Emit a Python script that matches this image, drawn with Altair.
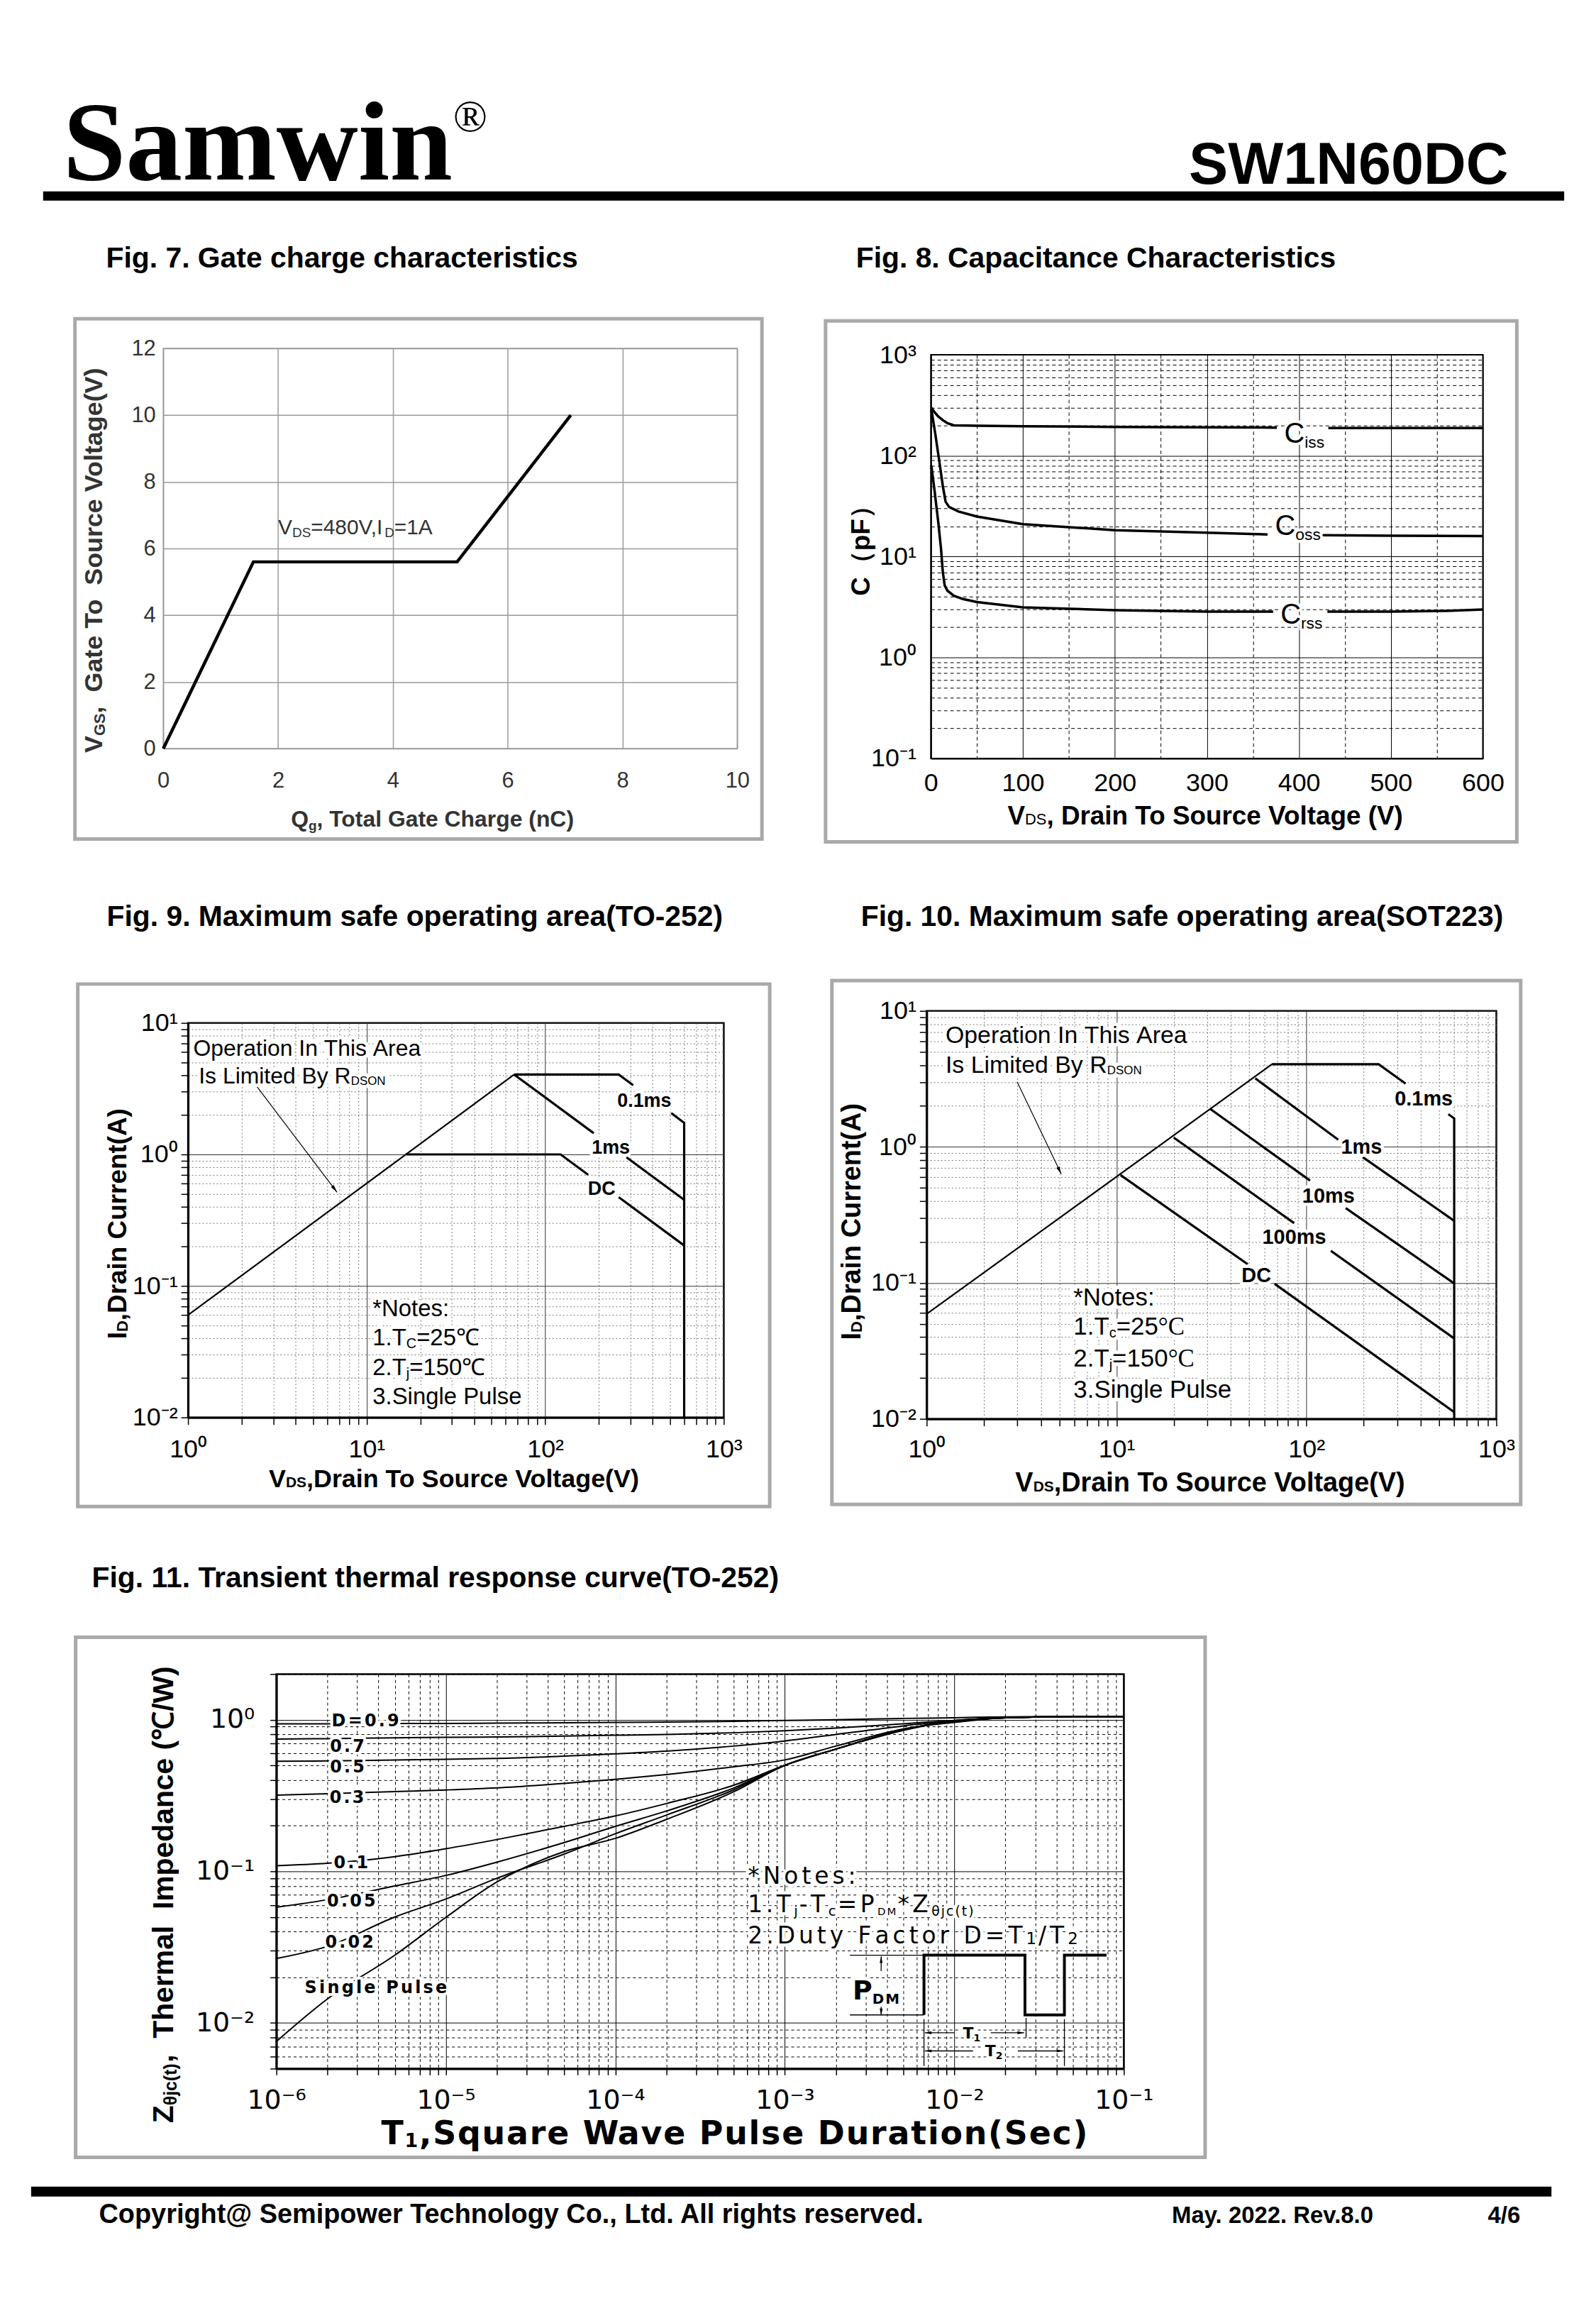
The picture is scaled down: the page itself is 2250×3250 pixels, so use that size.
import math
import altair as alt
import pandas as pd

SANS = "Liberation Sans, Arial, Helvetica, sans-serif"
WIDE = "DejaVu Sans, Verdana, sans-serif"
SERIF = "Liberation Serif, Times New Roman, serif"
FONTS = {"arial": SANS, "wide": WIDE, "serif": SERIF}
FRAME = "#a9a9a9"

# ======================= DATA =======================
# Fig. 7 gate charge
gate_qg_nc = [0.0, 1.57, 5.12, 7.1]
gate_vgs_v = [0.0, 5.6, 5.6, 10.0]
gate_note_qg, gate_note_v = 2.0, 6.66

# Fig. 8 capacitance (seg 1 resumes after the label gap)
ciss_vds = [0.5, 4, 8, 13, 18, 25, 50, 100, 200, 300, 376, 432, 500, 600]
ciss_pf = [300, 270, 245, 225, 210, 200, 198, 196, 193, 191, 190, 188, 188, 188]
ciss_seg = [0] * 11 + [1] * 3
coss_vds = [0.5, 5, 10, 13, 16, 20, 30, 50, 100, 200, 300, 366, 425, 500, 600]
coss_pf = [290, 160, 78, 50, 35, 31, 28, 25, 21, 18.3, 17.3, 16.6, 16.3, 16.1, 16.0]
coss_seg = [0] * 12 + [1] * 3
crss_vds = [0.5, 4, 8, 11, 13, 15, 18, 25, 35, 50, 100, 200, 300, 372, 431, 500, 560, 600]
crss_pf = [80, 45, 22, 12, 7, 5.2, 4.6, 4.1, 3.8, 3.55, 3.15, 2.95, 2.85, 2.85, 2.85, 2.85, 2.9, 3.0]
crss_seg = [0] * 14 + [1] * 4
cap_label_sub = ["iss", "oss", "rss"]
cap_label_vds = [384, 374, 380]
cap_label_pf = [168, 20.5, 2.72]

# Fig. 9 SOA TO-252
soa9_rdson_v = [1, 67]
soa9_rdson_i = [0.06, 4.05]
soa9_v = [[67, 258, 311], [508, 600, 600], [67, 187], [285, 600], [16.7, 122, 174], [258, 600]]
soa9_i = [[4.05, 4.05, 3.36], [2.06, 1.74, 0.01], [4.05, 1.45], [0.952, 0.452], [1.0, 1.0, 0.70], [0.473, 0.203]]
soa9_lab = ["0.1ms", "1ms", "DC"]
soa9_lab_v = [359, 233, 207]
soa9_lab_i = [2.6, 1.14, 0.555]
soa9_arrow_v = [2.41, 6.83]
soa9_arrow_i = [3.33, 0.516]
soa9_note_v = 10.8
soa9_note_i = [0.068, 0.0407, 0.0242, 0.0145]
soa9_op_v = [1.07, 1.149]
soa9_op_i = [6.5, 4.0]

# Fig. 10 SOA SOT223
soa10_rdson_v = [1, 65.8]
soa10_rdson_i = [0.059, 4.05]
soa10_v = [[65.8, 240, 333], [559, 600, 600], [53.8, 147], [198, 600], [31.2, 104.5], [161, 600],
           [20, 86.2], [134.5, 600], [10.5, 49.1], [68, 600]]
soa10_i = [[4.05, 4.05, 2.92], [1.74, 1.62, 0.01], [3.19, 1.13], [0.84, 0.286], [1.90, 0.565], [0.355, 0.099],
           [1.17, 0.275], [0.172, 0.039], [0.62, 0.137], [0.0984, 0.0112]]
soa10_lab = ["0.1ms", "1ms", "10ms", "100ms", "DC"]
soa10_lab_v = [415, 195, 130.6, 86.2, 54.5]
soa10_lab_i = [2.27, 1.0, 0.44, 0.218, 0.114]
soa10_arrow_v = [3.0, 5.12]
soa10_arrow_i = [3.0, 0.63]
soa10_note_v = 5.93
soa10_note_i = [0.079, 0.048, 0.028, 0.0165]
soa10_op_v = [1.257, 1.257]
soa10_op_i = [6.7, 4.05]

# Fig. 11 transient thermal impedance
zth_t = [1e-6, 2e-6, 5e-6, 1e-5, 2e-5, 5e-5, 1e-4, 2e-4, 5e-4, 1e-3, 2e-3, 5e-3, 1e-2, 2e-2, 5e-2, 1e-1]
zth_d09 = [0.94, 0.94, 0.945, 0.945, 0.95, 0.955, 0.96, 0.965, 0.975, 0.99, 1.0, 1.02, 1.03, 1.045, 1.05, 1.05]
zth_d07 = [0.745, 0.75, 0.76, 0.765, 0.77, 0.78, 0.79, 0.80, 0.82, 0.846, 0.88, 0.94, 0.99, 1.03, 1.05, 1.05]
zth_d05 = [0.532, 0.535, 0.542, 0.548, 0.555, 0.575, 0.596, 0.62, 0.67, 0.724, 0.80, 0.91, 0.99, 1.03, 1.05, 1.05]
zth_d03 = [0.318, 0.325, 0.336, 0.344, 0.355, 0.38, 0.404, 0.435, 0.49, 0.543, 0.67, 0.87, 0.96, 1.03, 1.05, 1.05]
zth_d01 = [0.109, 0.113, 0.125, 0.141, 0.162, 0.198, 0.232, 0.28, 0.37, 0.50, 0.64, 0.85, 0.98, 1.03, 1.05, 1.05]
zth_d005 = [0.0579, 0.065, 0.08, 0.094, 0.115, 0.155, 0.198, 0.25, 0.355, 0.50, 0.64, 0.86, 0.98, 1.03, 1.05, 1.05]
zth_d002 = [0.0266, 0.032, 0.05, 0.0657, 0.09, 0.13, 0.177, 0.235, 0.345, 0.50, 0.64, 0.86, 0.98, 1.03, 1.05, 1.05]
zth_single = [0.00755, 0.0144, 0.028, 0.0497, 0.085, 0.135, 0.165, 0.22, 0.335, 0.50, 0.64, 0.86, 0.98, 1.03, 1.05, 1.05]
zth_lab = ["D=0.9", "0.7", "0.5", "0.3", "0.1", "0.05", "0.02", "Single Pulse"]
zth_lab_t = [2.12e-6, 2.07e-6, 2.07e-6, 2.06e-6, 2.18e-6, 1.99e-6, 1.94e-6, 1.47e-6]
zth_lab_z = [0.985, 0.673, 0.49, 0.31, 0.115, 0.0641, 0.0343, 0.0173]
zth_note_t = 6.05e-4
zth_note_z = [0.0935, 0.0611, 0.0377]
pulse_t = [6.62e-3, 6.62e-3, 2.61e-2, 2.61e-2, 4.46e-2, 4.46e-2, 7.91e-2]
pulse_z = [0.0113, 0.028, 0.028, 0.0113, 0.0113, 0.028, 0.028]
pulse_thin_t = [[2.42e-3, 6.62e-3], [2.42e-3, 6.62e-3], [6.62e-3, 6.62e-3], [2.65e-2, 2.65e-2], [4.46e-2, 4.46e-2],
                [3.70e-3, 3.70e-3], [3.70e-3, 3.70e-3], [6.7e-3, 9.98e-3], [1.64e-2, 2.58e-2],
                [6.7e-3, 1.29e-2], [2.37e-2, 4.4e-2]]
pulse_thin_z = [[0.028, 0.028], [0.0113, 0.0113], [0.0106, 0.0052], [0.0108, 0.00797], [0.0106, 0.0052],
                [0.0275, 0.0220], [0.01335, 0.01125], [0.00861, 0.00861], [0.00861, 0.00861],
                [0.00654, 0.00654], [0.00654, 0.00654]]
pulse_head_t = [3.70e-3, 3.70e-3, 6.7e-3, 2.58e-2, 6.7e-3, 4.4e-2]
pulse_head_z = [0.0275, 0.01125, 0.00861, 0.00861, 0.00654, 0.00654]
pulse_head_dir = ["up", "down", "left", "right", "left", "right"]
pdm_t, pdm_z = 2.51e-3, 0.01654
t1_t, t1_z = 1.265e-2, 0.00861
t2_t, t2_z = 1.71e-2, 0.00654

# ======================= HELPERS =======================
ONE = pd.DataFrame({"k": [0]})


def _table(groups):
    t = {}
    for chars, w in groups:
        for ch in chars:
            t[ch] = w / 1000.0
    return t


_AR = _table([("ijl", 222), (" !,./:;I[]ft\u00a0", 278), ("()-r", 333), ("*", 389),
              ("ckvxyzJs", 500), ("0123456789abdeghnopquL?", 556), ("=+", 584),
              ("FTZ", 611), ("ABEKPSVXY", 667), ("CDHNRUw", 722), ("GOQ", 778),
              ("Mm", 833), ("W", 944), ("@", 1015), ("\u00b0", 400), ("\u03b8", 556), ("\u2103\uff08\uff09", 1000)])
_ARB = _table([(" ,./:;Iijl\u00a0", 278), ("()-!ft", 333), ("r*", 389),
               ("0123456789acekvxyzsJL?", 556), ("=+", 584), ("bdghnopquFTZ", 611),
               ("EKPSVXY", 667), ("ABCDHNRU", 722), ("GOQw", 778), ("M", 833),
               ("m", 889), ("W", 944), ("@", 975), ("\u00b0", 400), ("\u03b8", 600), ("\u2103\uff08\uff09", 1000)])
_DV = _table([(" .,\u00a0", 318), (":/", 337), ("ijl", 278), ("f", 352), ("-", 361), ("()", 390),
              ("t", 392), ("r", 411), ("*", 500), ("s", 521), ("c", 550), ("L", 557), ("vy", 592),
              ("F", 575), ("k", 579), ("P", 603), ("\u03b8", 602), ("YT", 611), ("o", 612),
              ("a", 613), ("e", 615), ("0123456789bdgpqS", 636), ("hnu", 634), ("E", 632), ("K", 656),
              ("AV", 684), ("ZX", 685), ("B", 686), ("R", 695), ("C", 698), ("U", 732), ("N", 748),
              ("H", 752), ("D", 770), ("G", 775), ("OQ", 787), ("w", 818), ("=", 838), ("M", 863),
              ("m", 974), ("W", 989), ("\u2103", 1000), ("I", 295)])
_DVB = _table([(" \u00a0", 348), (",.", 380), (":", 400), ("()", 457), ("-", 415), ("/", 365),
               ("ijl", 343), ("t", 478), ("r", 493), ("s", 595), ("c", 593), ("v", 652), ("y", 652),
               ("a", 675), ("e", 678), ("T", 682), ("o", 687), ("\u03b8", 687), ("0123456789", 696),
               ("nuh", 712), ("gqdpb", 716), ("S", 720), ("P", 733), ("C", 734), ("Z", 725),
               ("A", 774), ("D", 830), ("=", 838), ("M", 995), ("W", 1030), ("*", 575)])


def tw(text, size, weight, fam):
    if fam == "wide":
        if weight == "bold":
            w = sum(_DVB.get(c, 0.70) for c in text)
        else:
            w = sum(_DV.get(c, 0.62) for c in text)
    else:
        tab = _ARB if weight == "bold" else _AR
        w = sum(tab.get(c, 0.556) for c in text)
        if fam == "serif":
            w *= 0.93
    return w * size


def P(t, s, w="normal", f="arial", sh=0, tr=0):
    return (t, s, w, f, sh, tr)


def TR(t, s, w="normal", f="arial", sh=0, tr=0):
    """letter-spaced run: one piece per character"""
    return [P(c, s, w, f, sh, tr) for c in t]


def _tkw(p, color, halo):
    t, s, w, f, sh, tr = p
    kw = dict(text=t, fontSize=s, fontWeight=w, font=FONTS[f], align="left", baseline="alphabetic")
    if halo:
        kw.update(color="white", stroke="white", strokeWidth=halo, strokeJoin="round")
    else:
        kw.update(color=color)
    return kw


def _widths(pieces):
    return [tw(p[0], p[1], p[2], p[3]) + p[5] for p in pieces]


def rich_at(x, y, X, Y, pieces, align="left", color="black", halo=0):
    data = pd.DataFrame({"x": [x], "y": [y]})
    ws = _widths(pieces)
    start = {"left": 0.0, "center": -sum(ws) / 2, "right": -sum(ws)}[align]
    main = pieces[0][1]
    hal, txt = [], []
    cum = start
    for p, w in zip(pieces, ws):
        if p[0].strip(" \u00a0"):
            dy = 0.35 * main + p[4]
            if halo:
                hal.append(alt.Chart(data).mark_text(dx=cum, dy=dy, **_tkw(p, color, halo)).encode(x=X, y=Y))
            txt.append(alt.Chart(data).mark_text(dx=cum, dy=dy, **_tkw(p, color, 0)).encode(x=X, y=Y))
        cum += w
    return hal + txt


def rich_px(x, y, pieces, align="left", angle=0, color="black"):
    ws = _widths(pieces)
    start = {"left": 0.0, "center": -sum(ws) / 2, "right": -sum(ws)}[align]
    main = pieces[0][1]
    out = []
    if angle == 0:
        cum = x + start
        for p, w in zip(pieces, ws):
            if p[0].strip(" \u00a0"):
                out.append(alt.Chart(ONE).mark_text(**_tkw(p, color, 0)).encode(
                    x=alt.value(cum), y=alt.value(y + 0.35 * main + p[4])))
            cum += w
    else:
        cum = y - start
        for p, w in zip(pieces, ws):
            if p[0].strip(" \u00a0"):
                out.append(alt.Chart(ONE).mark_text(angle=270, **_tkw(p, color, 0)).encode(
                    x=alt.value(x + 0.35 * main + p[4]), y=alt.value(cum)))
            cum -= w
    return out


def px_rect(x1, x2, y1, y2, **kw):
    return alt.Chart(ONE).mark_rect(**kw).encode(
        x=alt.value(x1), x2=alt.value(x2), y=alt.value(y1), y2=alt.value(y2))


def cell(x1, x2, y1, y2):
    return px_rect(x1, x2, y1, y2, fill="white", fillOpacity=0, strokeOpacity=0)


def frame(x1, x2, y1, y2):
    return px_rect(x1, x2, y1, y2, fillOpacity=0, stroke=FRAME, strokeWidth=5)


def tiny():
    return px_rect(0, 1, 0, 1, fill="white", fillOpacity=0, strokeOpacity=0).properties(
        width=1, height=1, view=alt.ViewBackground(strokeOpacity=0))


def wrap(fig):
    return alt.vconcat(tiny(), fig, spacing=0)


def seg_df(xs_list, ys_list):
    rows = []
    for s, (xs, ys) in enumerate(zip(xs_list, ys_list)):
        for i, (a, b) in enumerate(zip(xs, ys)):
            rows.append({"x": a, "y": b, "seg": s, "i": i})
    return pd.DataFrame(rows)


def line_layer(df, X, Y, width, color="black"):
    return alt.Chart(df).mark_line(color=color, strokeWidth=width, strokeJoin="miter",
                                   strokeCap="butt").encode(x=X, y=Y, detail="seg:N", order="i:Q")


def log_ticks(lo, hi):
    vals = []
    e = math.floor(math.log10(lo) + 1e-9)
    while True:
        for m in range(1, 10):
            v = float(f"{m}e{e}")
            if v > hi * 1.0001:
                return vals
            if v >= lo * 0.9999:
                vals.append(v)
        e += 1


SUP = {"0": "\u2070", "1": "\u00b9", "2": "\u00b2", "3": "\u00b3", "4": "\u2074", "5": "\u2075",
       "6": "\u2076", "-": "\u207b"}
MINOR = "abs(log(datum.value)/LN10 - round(log(datum.value)/LN10)) > 0.001"


def dec_expr(lo_e, hi_e):
    expr = "''"
    for e in range(lo_e, hi_e + 1):
        lab = "10" + "".join(SUP[c] for c in str(e))
        expr = f"abs(log(datum.value)/LN10 - ({e})) < 0.001 ? '{lab}' : ({expr})"
    return expr


def log_axis(lo, hi, lo_e, hi_e, font, size, pad, tick, major_color, minor_color, minor_dash,
             grid_w, domain_w):
    return alt.Axis(values=log_ticks(lo, hi), labelExpr=dec_expr(lo_e, hi_e), title=None, grid=True,
                    gridColor={"condition": {"test": MINOR, "value": minor_color}, "value": major_color},
                    gridDash={"condition": {"test": MINOR, "value": minor_dash}, "value": []},
                    gridWidth=grid_w, domain=True, domainColor="black", domainWidth=domain_w,
                    ticks=tick > 0, tickSize=tick, tickColor="black", tickWidth=1.5,
                    labelFont=font, labelFontSize=size, labelColor="black", labelPadding=pad,
                    labelFlush=False, labelOverlap=False)


ARROW_SHAPES = {"left": "M0,0L1.8,-0.4L1.8,0.4Z", "right": "M0,0L-1.8,-0.4L-1.8,0.4Z",
                "up": "M0,0L-0.4,1.8L0.4,1.8Z", "down": "M0,0L-0.4,-1.8L0.4,-1.8Z"}


def arrow_head(x, y, X, Y, direction, angle=0, size=160):
    kw = dict(shape=ARROW_SHAPES[direction], filled=True, color="black", size=size, opacity=1, strokeWidth=0)
    if angle:
        kw["angle"] = angle
    return alt.Chart(pd.DataFrame({"x": [x], "y": [y]})).mark_point(**kw).encode(x=X, y=Y)


# ======================= HEADER =======================
header = alt.layer(
    px_rect(53, 2205, 257, 270, color="black"),
    alt.Chart(ONE).mark_text(text="Samwin", font=SERIF, fontSize=160, fontWeight="bold", align="left",
                             baseline="alphabetic", color="black").encode(x=alt.value(81), y=alt.value(240)),
    alt.Chart(ONE).mark_text(text="\u00ae", font=SERIF, fontSize=64, align="left",
                             baseline="alphabetic", color="black").encode(x=alt.value(633), y=alt.value(172)),
    alt.Chart(ONE).mark_text(text="SW1N60DC", font=SANS, fontSize=83, fontWeight="bold", align="right",
                             baseline="alphabetic", color="black").encode(x=alt.value(2126), y=alt.value(246)),
).properties(width=2234, height=292, view=alt.ViewBackground(strokeOpacity=0))

# ======================= FIG 7 =======================
X7 = alt.X("x:Q", scale=alt.Scale(domain=[0, 10], nice=False, zero=False),
           axis=alt.Axis(values=[0, 2, 4, 6, 8, 10], title=None, grid=True, gridColor="#9a9a9a", gridWidth=1.5,
                         domain=False, ticks=False, tickSize=0, labelFont=SANS, labelFontSize=31,
                         labelColor="#333333", labelPadding=31, labelFlush=False, labelOverlap=False))
Y7 = alt.Y("y:Q", scale=alt.Scale(domain=[0, 12], nice=False, zero=False),
           axis=alt.Axis(values=[0, 2, 4, 6, 8, 10, 12], title=None, grid=True, gridColor="#9a9a9a", gridWidth=1.5,
                         domain=False, ticks=False, tickSize=0, labelFont=SANS, labelFontSize=31,
                         labelColor="#333333", labelPadding=11, labelFlush=False, labelOverlap=False))
fig7_layers = [cell(-221, 895, -185, 754), frame(-125, 847, -42, 694),
               line_layer(seg_df([gate_qg_nc], [gate_vgs_v]), X7, Y7, 4.5)]
fig7_layers += rich_at(gate_note_qg, gate_note_v, X7, Y7,
                       [P("V", 30), P("DS", 19, sh=5), P("=480V,I", 30), P("D", 19, sh=5), P("=1A", 30)],
                       color="#333333")
fig7_layers += rich_px(-99, 297, [P("V", 36, "bold"), P("GS", 22, "bold", sh=4),
                                  P(",\u00a0\u00a0Gate\u00a0To\u00a0\u00a0Source\u00a0Voltage(V)", 36, "bold")],
                       align="center", angle=270, color="#333333")
fig7_layers += rich_px(382, 665, [P("Q", 32, "bold"), P("g", 19, "bold", sh=5),
                                  P(", Total Gate Charge (nC)", 32, "bold")], align="center", color="#333333")
fig7_layers += rich_px(-81, -129, [P("Fig. 7. Gate charge characteristics", 41, "bold")])
fig7 = alt.layer(*fig7_layers).properties(width=812, height=566,
                                         view=alt.ViewBackground(stroke="#9a9a9a", strokeWidth=1.5))

# ======================= FIG 8 =======================
X8 = alt.X("x:Q", scale=alt.Scale(domain=[0, 600], nice=False, zero=False),
           axis=alt.Axis(values=list(range(0, 601, 50)), labelExpr="datum.value % 100 == 0 ? datum.label : ''",
                         title=None, grid=True, gridColor="black", gridWidth=1,
                         gridDash={"condition": {"test": "datum.value % 100 != 0", "value": [5, 4]}, "value": []},
                         domain=True, domainColor="black", domainWidth=2, ticks=False, tickSize=0,
                         labelFont=SANS, labelFontSize=36, labelColor="black", labelPadding=18,
                         labelFlush=False, labelOverlap=False))
Y8 = alt.Y("y:Q", scale=alt.Scale(type="log", domain=[0.1, 1000], nice=False),
           axis=log_axis(0.1, 1000, -1, 3, SANS, 36, 21, 0, "black", "black", [5, 4], 1, 2))
fig8_layers = [cell(-189, 928, -194, 745), frame(-149, 829, -48, 689)]
for xs, ys, sg in [(ciss_vds, ciss_pf, ciss_seg), (coss_vds, coss_pf, coss_seg), (crss_vds, crss_pf, crss_seg)]:
    d = pd.DataFrame({"x": xs, "y": ys, "seg": sg, "i": list(range(len(xs)))})
    fig8_layers.append(line_layer(d, X8, Y8, 3.5))
for sub, xv, yv in zip(cap_label_sub, cap_label_vds, cap_label_pf):
    fig8_layers += rich_at(xv, yv, X8, Y8, [P("C", 40), P(sub, 23, sh=7)], halo=8)
fig8_layers += rich_px(-100, 268, [P("C\uff08pF\uff09", 37, "bold")], align="center", angle=270)
fig8_layers += rich_px(391, 651, [P("V", 37, "bold"), P("DS", 22), P(", Drain To Source Voltage (V)", 37, "bold")],
                       align="center")
fig8_layers += rich_px(-106, -138, [P("Fig. 8. Capacitance Characteristics", 41, "bold")])
fig8 = alt.layer(*fig8_layers).properties(width=781, height=571,
                                         view=alt.ViewBackground(stroke="black", strokeWidth=2))


# ======================= FIG 9 / 10 =======================
def soa_figure(rd_v, rd_i, segs_v, segs_i, labs, lab_v, lab_i, arr_v, arr_i, arr_angle,
               note_v, note_i, op_v, op_i, deg_serif, size, ypad, xpad, cellr, framer, ytitle, xtitle,
               title, lab_size, note_size, op_size, wh):
    X = alt.X("x:Q", scale=alt.Scale(type="log", domain=[1, 1000], nice=False),
              axis=log_axis(1, 1000, 0, 3, SANS, size, xpad, 10, "#333333", "#777777", [2, 3], 1, 3))
    Y = alt.Y("y:Q", scale=alt.Scale(type="log", domain=[0.01, 10], nice=False),
              axis=log_axis(0.01, 10, -2, 1, SANS, size, ypad, 10, "#333333", "#777777", [2, 3], 1, 3))
    L = [cell(*cellr), frame(*framer)]
    L.append(line_layer(seg_df([rd_v], [rd_i]), X, Y, 2.2))
    L.append(line_layer(seg_df(segs_v, segs_i), X, Y, 3.2))
    L.append(line_layer(seg_df([arr_v], [arr_i]), X, Y, 1.2))
    L.append(arrow_head(arr_v[1], arr_i[1], X, Y, "down", angle=arr_angle, size=150))
    for t, xv, yv in zip(labs, lab_v, lab_i):
        L += rich_at(xv, yv, X, Y, [P(t, lab_size, "bold")], align="center", halo=9)
    L += rich_at(op_v[0], op_i[0], X, Y, [P("Operation\u00a0In\u00a0This\u00a0Area", op_size)], halo=10)
    L += rich_at(op_v[1], op_i[1], X, Y, [P("Is\u00a0Limited\u00a0By\u00a0R", op_size), P("DSON", 17, sh=2)], halo=10)
    if deg_serif:
        deg1 = [P("=25", note_size), P("\u00b0C", note_size, f="serif")]
        deg2 = [P("=150", note_size), P("\u00b0C", note_size, f="serif")]
        tsub = "c"
    else:
        deg1 = [P("=25\u2103", note_size)]
        deg2 = [P("=150\u2103", note_size)]
        tsub = "C"
    notes = [[P("*Notes:", note_size)],
             [P("1.T", note_size), P(tsub, 20, sh=4)] + deg1,
             [P("2.T", note_size), P("j", 20, sh=4)] + deg2,
             [P("3.Single\u00a0Pulse", note_size)]]
    for pcs, yv in zip(notes, note_i):
        L += rich_at(note_v, yv, X, Y, pcs, halo=10)
    L += rich_px(*ytitle[:2], [P("I", ytitle[2], "bold"), P("D", 22, "bold", sh=2),
                               P(",Drain Current(A)", ytitle[2], "bold")], align="center", angle=270)
    L += rich_px(*xtitle[:2], [P("V", xtitle[2], "bold"), P("DS", 21, "bold"),
                               P(",Drain To Source Voltage(V)", xtitle[2], "bold")], align="center")
    L += rich_px(title[0], title[1], [P(title[2], 41, "bold")])
    return alt.layer(*L).properties(width=wh[0], height=wh[1],
                                    view=alt.ViewBackground(stroke="black", strokeWidth=2.5))


fig9 = soa_figure(soa9_rdson_v, soa9_rdson_i, soa9_v, soa9_i, soa9_lab, soa9_lab_v, soa9_lab_i,
                  soa9_arrow_v, soa9_arrow_i, 323, soa9_note_v, soa9_note_i, soa9_op_v, soa9_op_i,
                  False, 36, 5, 18, (-255, 861, -196, 733), (-156, 823, -55, 684),
                  (-100.5, 284, 37), (379, 644, 36),
                  (-115, -152, "Fig. 9. Maximum safe operating area(TO-252)"), 27, 33, 32, (758, 558))
fig10 = soa_figure(soa10_rdson_v, soa10_rdson_i, soa10_v, soa10_i, soa10_lab, soa10_lab_v, soa10_lab_i,
                   soa10_arrow_v, soa10_arrow_i, 334, soa10_note_v, soa10_note_i, soa10_op_v, soa10_op_i,
                   True, 36, 5, 16, (-180, 937, -179, 750), (-134, 840.5, -43, 698),
                   (-107, 298, 38), (404, 666, 38),
                   (-93, -135, "Fig. 10. Maximum safe operating area(SOT223)"), 29, 35, 34, (806, 577))

# ======================= FIG 11 =======================
X11 = alt.X("x:Q", scale=alt.Scale(type="log", domain=[1e-6, 0.1], nice=False),
            axis=log_axis(1e-6, 0.1, -6, -1, WIDE, 38, 17, 9, "black", "black", [4, 4], 1, 3))
Y11 = alt.Y("y:Q", scale=alt.Scale(type="log", domain=[0.005, 2], nice=False),
            axis=log_axis(0.005, 2, -2, 0, WIDE, 38, 22, 9, "black", "black", [4, 4], 1, 3))
zth_rows = []
for name, vals in [("0.9", zth_d09), ("0.7", zth_d07), ("0.5", zth_d05), ("0.3", zth_d03), ("0.1", zth_d01),
                   ("0.05", zth_d005), ("0.02", zth_d002), ("single", zth_single)]:
    for i, (t, z) in enumerate(zip(zth_t, vals)):
        zth_rows.append({"x": t, "y": z, "seg": name, "i": i})
fig11_layers = [cell(-380, 1853, -183, 701), frame(-284, 1314, -52, 683.5),
                alt.Chart(pd.DataFrame(zth_rows)).mark_line(color="black", strokeWidth=2, interpolate="monotone")
                .encode(x=X11, y=Y11, detail="seg:N", order="i:Q"),
                line_layer(seg_df([pulse_t], [pulse_z]), X11, Y11, 4),
                line_layer(seg_df(pulse_thin_t, pulse_thin_z), X11, Y11, 1.3)]
for xv, yv, dr in zip(pulse_head_t, pulse_head_z, pulse_head_dir):
    fig11_layers.append(arrow_head(xv, yv, X11, Y11, dr, size=110))
for t, xv, yv in zip(zth_lab, zth_lab_t, zth_lab_z):
    fig11_layers += rich_at(xv, yv, X11, Y11, TR(t, 24, "bold", "wide", tr=3.2), halo=8)
NS = 33
notes11 = [TR("*Notes:", NS, f="wide", tr=5),
           TR("1.T", NS, f="wide", tr=4.5) + TR("j", 20, f="wide", sh=5, tr=2) + TR("-T", NS, f="wide", tr=4.5)
           + TR("c", 20, f="wide", sh=5, tr=2) + TR("=P", NS, f="wide", tr=4.5) + TR("DM", 15, f="wide", sh=4, tr=2)
           + TR("*Z", NS, f="wide", tr=4.5) + TR("\u03b8jc(t)", 19, f="wide", sh=5, tr=2),
           TR("2.Duty Factor D=T", NS, f="wide", tr=5) + TR("1", 23, f="wide", sh=1, tr=3)
           + TR("/T", NS, f="wide", tr=5) + TR("2", 23, f="wide", sh=1, tr=3)]
for pcs, yv in zip(notes11, zth_note_z):
    fig11_layers += rich_at(zth_note_t, yv, X11, Y11, pcs, halo=9)
fig11_layers += rich_at(pdm_t, pdm_z, X11, Y11, [P("P", 38, "bold", "wide")] + TR("DM", 20, "bold", "wide", sh=6, tr=2),
                        halo=10)
fig11_layers += rich_at(t1_t, t1_z, X11, Y11, [P("T", 22, "bold", "wide"), P("1", 14, "bold", "wide", sh=4)],
                        align="center", halo=6)
fig11_layers += rich_at(t2_t, t2_z, X11, Y11, [P("T", 22, "bold", "wide"), P("2", 14, "bold", "wide", sh=4)],
                        align="center", halo=6)
fig11_layers += rich_px(-161, 312, [P("Z", 41, "bold"), P("\u03b8jc(t)", 25, "bold", sh=6),
                                    P(",\u00a0\u00a0Thermal\u00a0\u00a0Impedance\u00a0(\u2103/W)", 41, "bold")],
                        align="center", angle=270)
fig11_layers += rich_px(649, 649, TR("T", 46, "bold", "wide", tr=1.8) + TR("1", 27, "bold", "wide", sh=4, tr=1.8)
                        + TR(",Square Wave Pulse Duration(Sec)", 46, "bold", "wide", tr=1.8),
                        align="center")
fig11_layers += rich_px(-261, -137, [P("Fig. 11. Transient thermal response curve(TO-252)", 41, "bold")])
fig11 = alt.layer(*fig11_layers).properties(width=1199, height=558,
                                           view=alt.ViewBackground(stroke="black", strokeWidth=2.5))

# ======================= FOOTER =======================
footer_layers = [px_rect(36, 2187, 22, 36, color="black")]
footer_layers += rich_px(132, 60, [P("Copyright@ Semipower Technology Co., Ltd. All rights reserved.", 38, "bold")])
footer_layers += rich_px(1650, 62, [P("May. 2022. Rev.8.0", 33, "bold")])
footer_layers += rich_px(2097, 62, [P("4/6", 33, "bold")])
footer = alt.layer(*footer_layers).properties(width=2234, height=187, view=alt.ViewBackground(strokeOpacity=0))

chart = alt.vconcat(
    header,
    alt.hconcat(tiny(), wrap(fig7), wrap(fig8), spacing=0),
    alt.hconcat(tiny(), wrap(fig9), wrap(fig10), spacing=0),
    alt.hconcat(tiny(), wrap(fig11), spacing=0),
    footer,
    spacing=0,
).properties(padding=0)

chart.save("out.html", embed_options={"renderer": "svg", "actions": False})
